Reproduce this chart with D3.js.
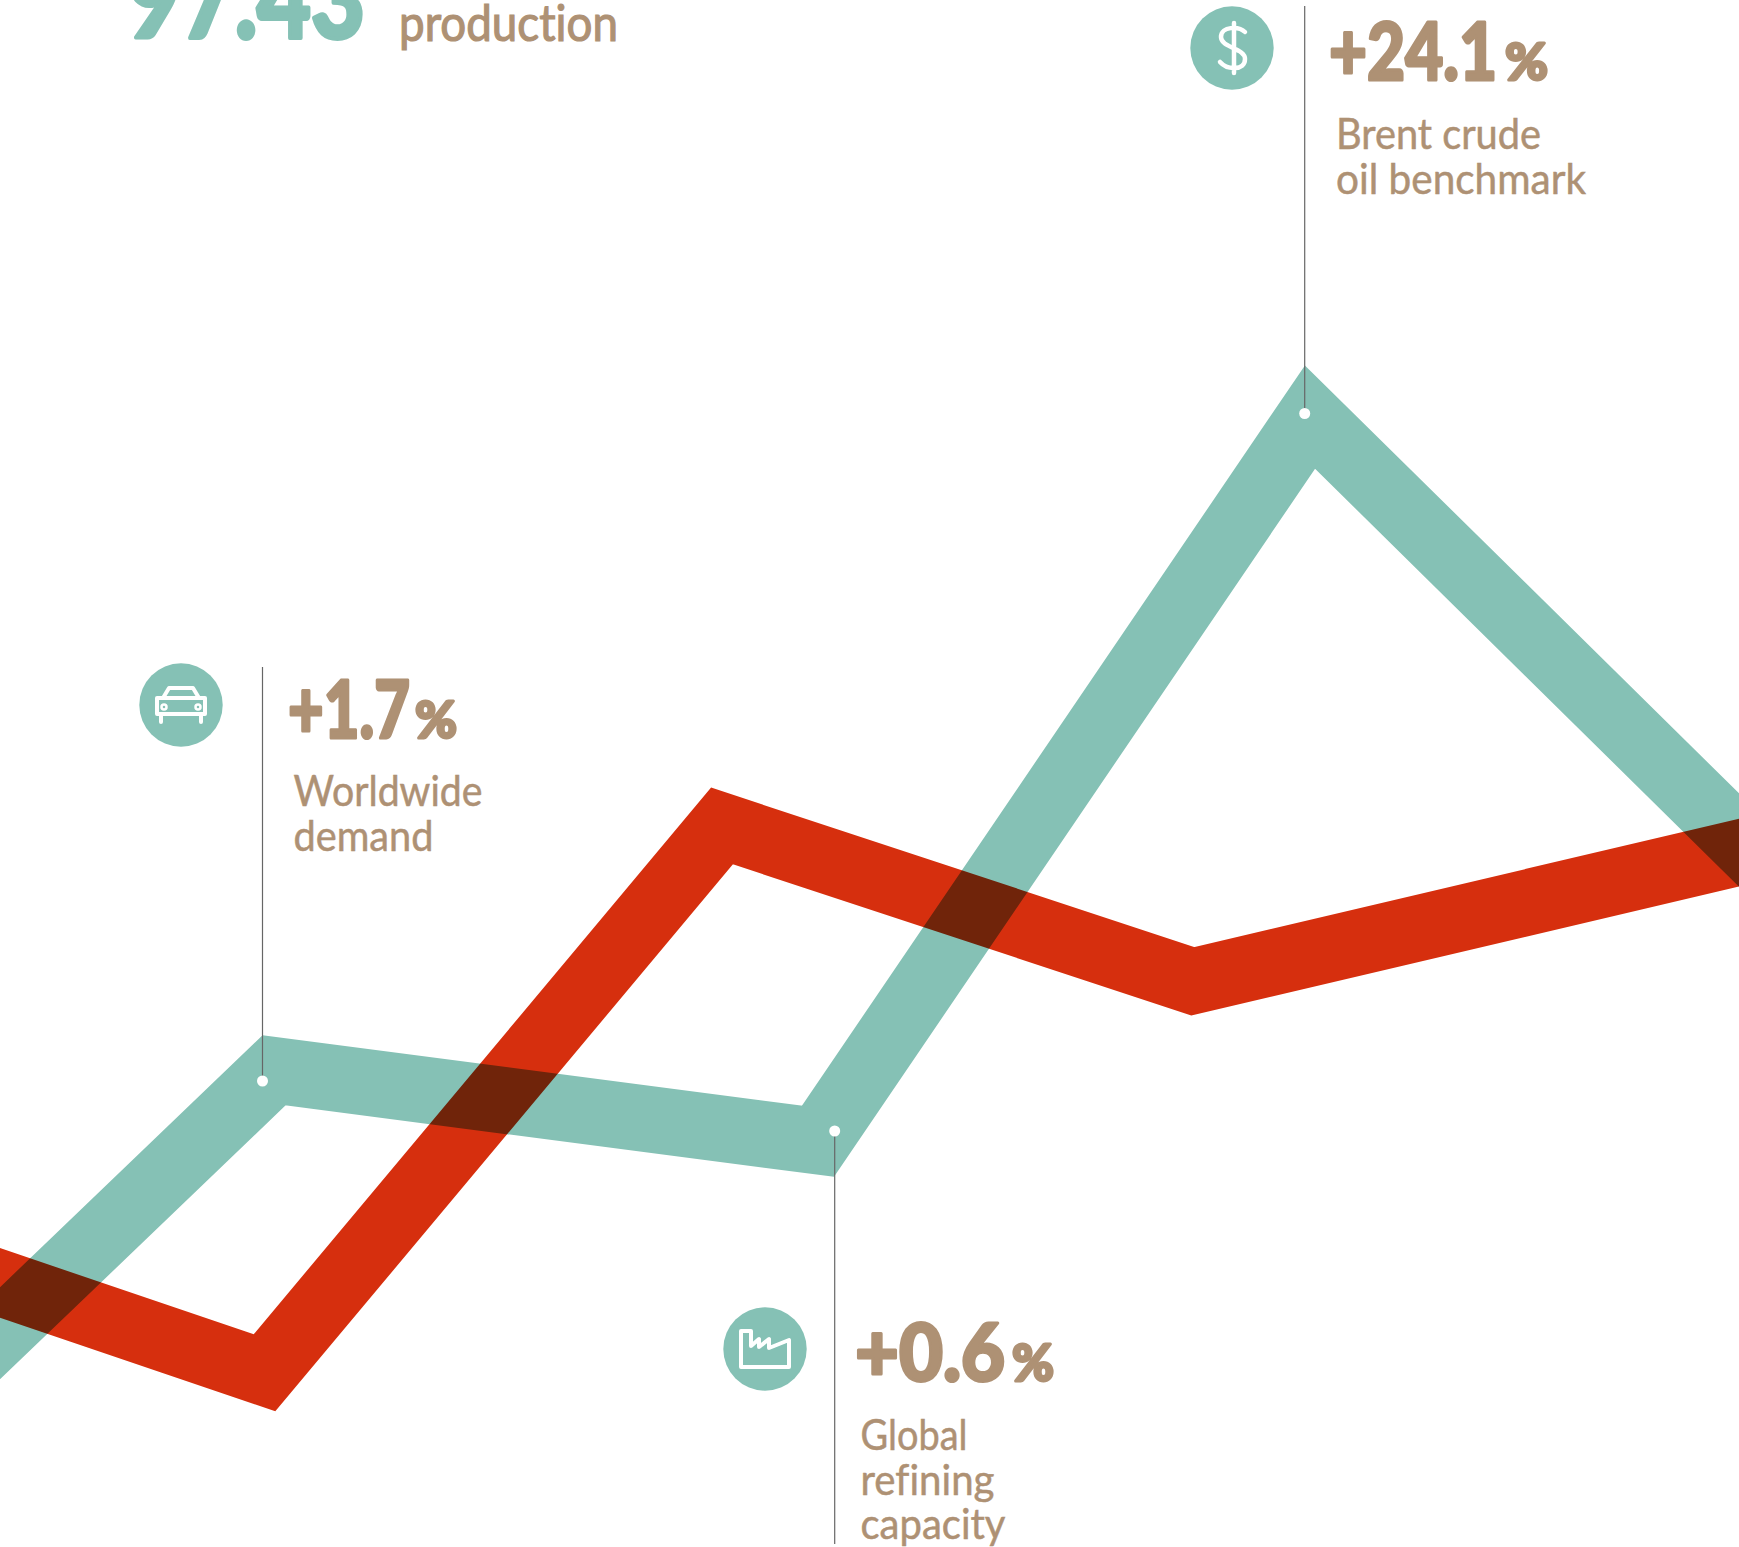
<!DOCTYPE html>
<html>
	<head>
		<meta charset="utf-8" />
		<title>Oil market changes</title>
		<style>
			html, body { margin: 0; padding: 0; background: #fff; }
			#graph { width: 1739px; height: 1547px; overflow: hidden; }
			#graph svg { display: block; }
			.band { fill: none; stroke-linejoin: miter; stroke-miterlimit: 10; mix-blend-mode: multiply; }
			text { font-family: "Lato", sans-serif; fill: #ae9174; font-variant-ligatures: none; }
			.big { font-weight: 900; stroke: #ae9174; stroke-width: 3px; stroke-linejoin: round; }
			.label { font-weight: 400; stroke: #ae9174; stroke-width: 0.5px; }
			.icon { fill: none; stroke: #fff; stroke-linejoin: round; stroke-linecap: round; }
		</style>
	</head>
	<body>
		<div id="graph"></div>
		<script src="https://cdnjs.cloudflare.com/ajax/libs/d3/7.8.5/d3.min.js"></script>
		<script>
			// series (both axes 0-100 of the plot, points run past the edges)
			var tealX = [-2.9, 15.76, 47.04, 75.33, 102.9];
			var tealY = [10.69, 30.81, 26.23, 73.04, 42.49];
			var redX = [-2.88, 15.21, 41.52, 68.59, 102.93];
			var redY = [18.17, 11.26, 46.61, 36.57, 45.66];

			// callouts
			var calloutValues = ["+24.1", "+1.7", "+0.6"];
			var calloutLabels = [
				["Brent crude", "oil benchmark"],
				["Worldwide", "demand"],
				["Global", "refining", "capacity"]
			];
			var calloutIcons = ["dollar", "car", "factory"];
			var headValue = "97.43";
			var headLabel = "production";

			// layout only, all in pixels of the page
			var place = [
				{ lineX: 1304.7, lineTop: 6, lineBottom: 413.5, dotY: 413.5, circleX: 1232, circleY: 48,
					valueX: 1329, valueY: 80, valueW: 168, pctX: 1505, pctW: 43,
					labelX: 1336, labelY: [149, 194], labelW: [205, 250] },
				{ lineX: 262.5, lineTop: 667, lineBottom: 1081, dotY: 1081, circleX: 181, circleY: 705,
					valueX: 288, valueY: 738, valueW: 122, pctX: 415, pctW: 42,
					labelX: 293.5, labelY: [805.5, 850.5], labelW: [189, 140] },
				{ lineX: 834.7, lineTop: 1131, lineBottom: 1544, dotY: 1131, circleX: 765, circleY: 1349,
					valueX: 855, valueY: 1381, valueW: 150, pctX: 1012, pctW: 42,
					labelX: 860.5, labelY: [1449.5, 1494.5, 1539], labelW: [107, 134, 145] }
			];

			var width = 1739, height = 1547;
			var svg = d3.select("#graph").append("svg").attr("width", width).attr("height", height);
			var x = d3.scaleLinear().domain([0, 100]).range([0, width]);
			var y = d3.scaleLinear().domain([0, 100]).range([height, 0]);
			var line = d3.line().x(function(d){ return x(d[0]) }).y(function(d){ return y(d[1]) });

			var plot = svg.append("g").style("isolation", "isolate");
			plot.append("rect").attr("width", width).attr("height", height).attr("fill", "#fff");
			plot.append("path").attr("class", "band")
				.attr("d", line(d3.zip(tealX, tealY)))
				.attr("stroke", "#85c1b5").attr("stroke-width", 66.5);
			plot.append("path").attr("class", "band")
				.attr("d", line(d3.zip(redX, redY)))
				.attr("stroke", "#d62f0e").attr("stroke-width", 66);

			// icons are drawn in a 0-centred box
			function drawIcon(g, name) {
				if (name == "dollar") {
					g.append("path").attr("class", "icon").attr("stroke-width", 4.5)
						.attr("d", "M13,-16 C7,-22 -11,-22 -11,-11 C-11,0 13,0 13,11 C13,23 -5,22 -12,14 M2,-25 V25");
				} else if (name == "car") {
					g.append("path").attr("class", "icon").attr("stroke-width", 4)
						.attr("d", "M-24,-7 H24 V9 H-24 Z M-18,-7 L-12,-17 H12 L18,-7 M-20,9 V17 M20,9 V17");
					g.selectAll("circle.wheel").data([-17, 17]).enter().append("circle")
						.attr("class", "icon wheel").attr("stroke-width", 2.5)
						.attr("cx", function(d){ return d }).attr("cy", 2).attr("r", 2.5);
				} else {
					g.append("path").attr("class", "icon").attr("stroke-width", 4)
						.attr("d", "M-24,-18 H-14 V-3 L-6,-10 V-2 L4,-10 V-1 L24,-9 V18 H-24 Z");
				}
			}

			var callout = svg.selectAll("g.callout").data(place).enter().append("g").attr("class", "callout");
			callout.append("line")
				.attr("x1", function(d){ return d.lineX }).attr("x2", function(d){ return d.lineX })
				.attr("y1", function(d){ return d.lineTop }).attr("y2", function(d){ return d.lineBottom })
				.attr("stroke", "#666").attr("stroke-width", 1.2);
			callout.append("circle")
				.attr("cx", function(d){ return d.lineX }).attr("cy", function(d){ return d.dotY })
				.attr("r", 5.5).attr("fill", "#fff");
			callout.append("circle")
				.attr("cx", function(d){ return d.circleX }).attr("cy", function(d){ return d.circleY })
				.attr("r", 41.7).attr("fill", "#85c1b5");
			callout.append("g")
				.attr("transform", function(d){ return "translate(" + d.circleX + "," + d.circleY + ")" })
				.each(function(d, i){ drawIcon(d3.select(this), calloutIcons[i]) });
			callout.append("text").attr("class", "big")
				.attr("x", function(d){ return d.valueX }).attr("y", function(d){ return d.valueY })
				.attr("font-size", 80).attr("textLength", function(d){ return d.valueW })
				.attr("lengthAdjust", "spacingAndGlyphs")
				.text(function(d, i){ return calloutValues[i] });
			callout.append("text").attr("class", "big")
				.attr("x", function(d){ return d.pctX }).attr("y", function(d){ return d.valueY })
				.attr("font-size", 52).attr("textLength", function(d){ return d.pctW })
				.attr("lengthAdjust", "spacingAndGlyphs")
				.text("%");
			callout.each(function(d, i){
				var g = d3.select(this);
				calloutLabels[i].forEach(function(t, j){
					g.append("text").attr("class", "label")
						.attr("x", d.labelX).attr("y", d.labelY[j])
						.attr("font-size", 42)
						.attr("textLength", d.labelW[j]).attr("lengthAdjust", "spacingAndGlyphs")
						.text(t);
				});
			});

			// heading, cut off by the top of the page
			svg.append("text").attr("class", "big").attr("x", 127).attr("y", 38)
				.attr("font-size", 110).attr("textLength", 238).attr("lengthAdjust", "spacingAndGlyphs")
				.style("fill", "#85c1b5").style("stroke", "#85c1b5").style("stroke-width", "4px")
				.text(headValue);
			svg.append("text").attr("class", "label").attr("x", 399).attr("y", 41)
				.attr("font-size", 50).attr("textLength", 219).attr("lengthAdjust", "spacingAndGlyphs")
				.style("stroke-width", "1.2px")
				.text(headLabel);
		</script>
	</body>
</html>
